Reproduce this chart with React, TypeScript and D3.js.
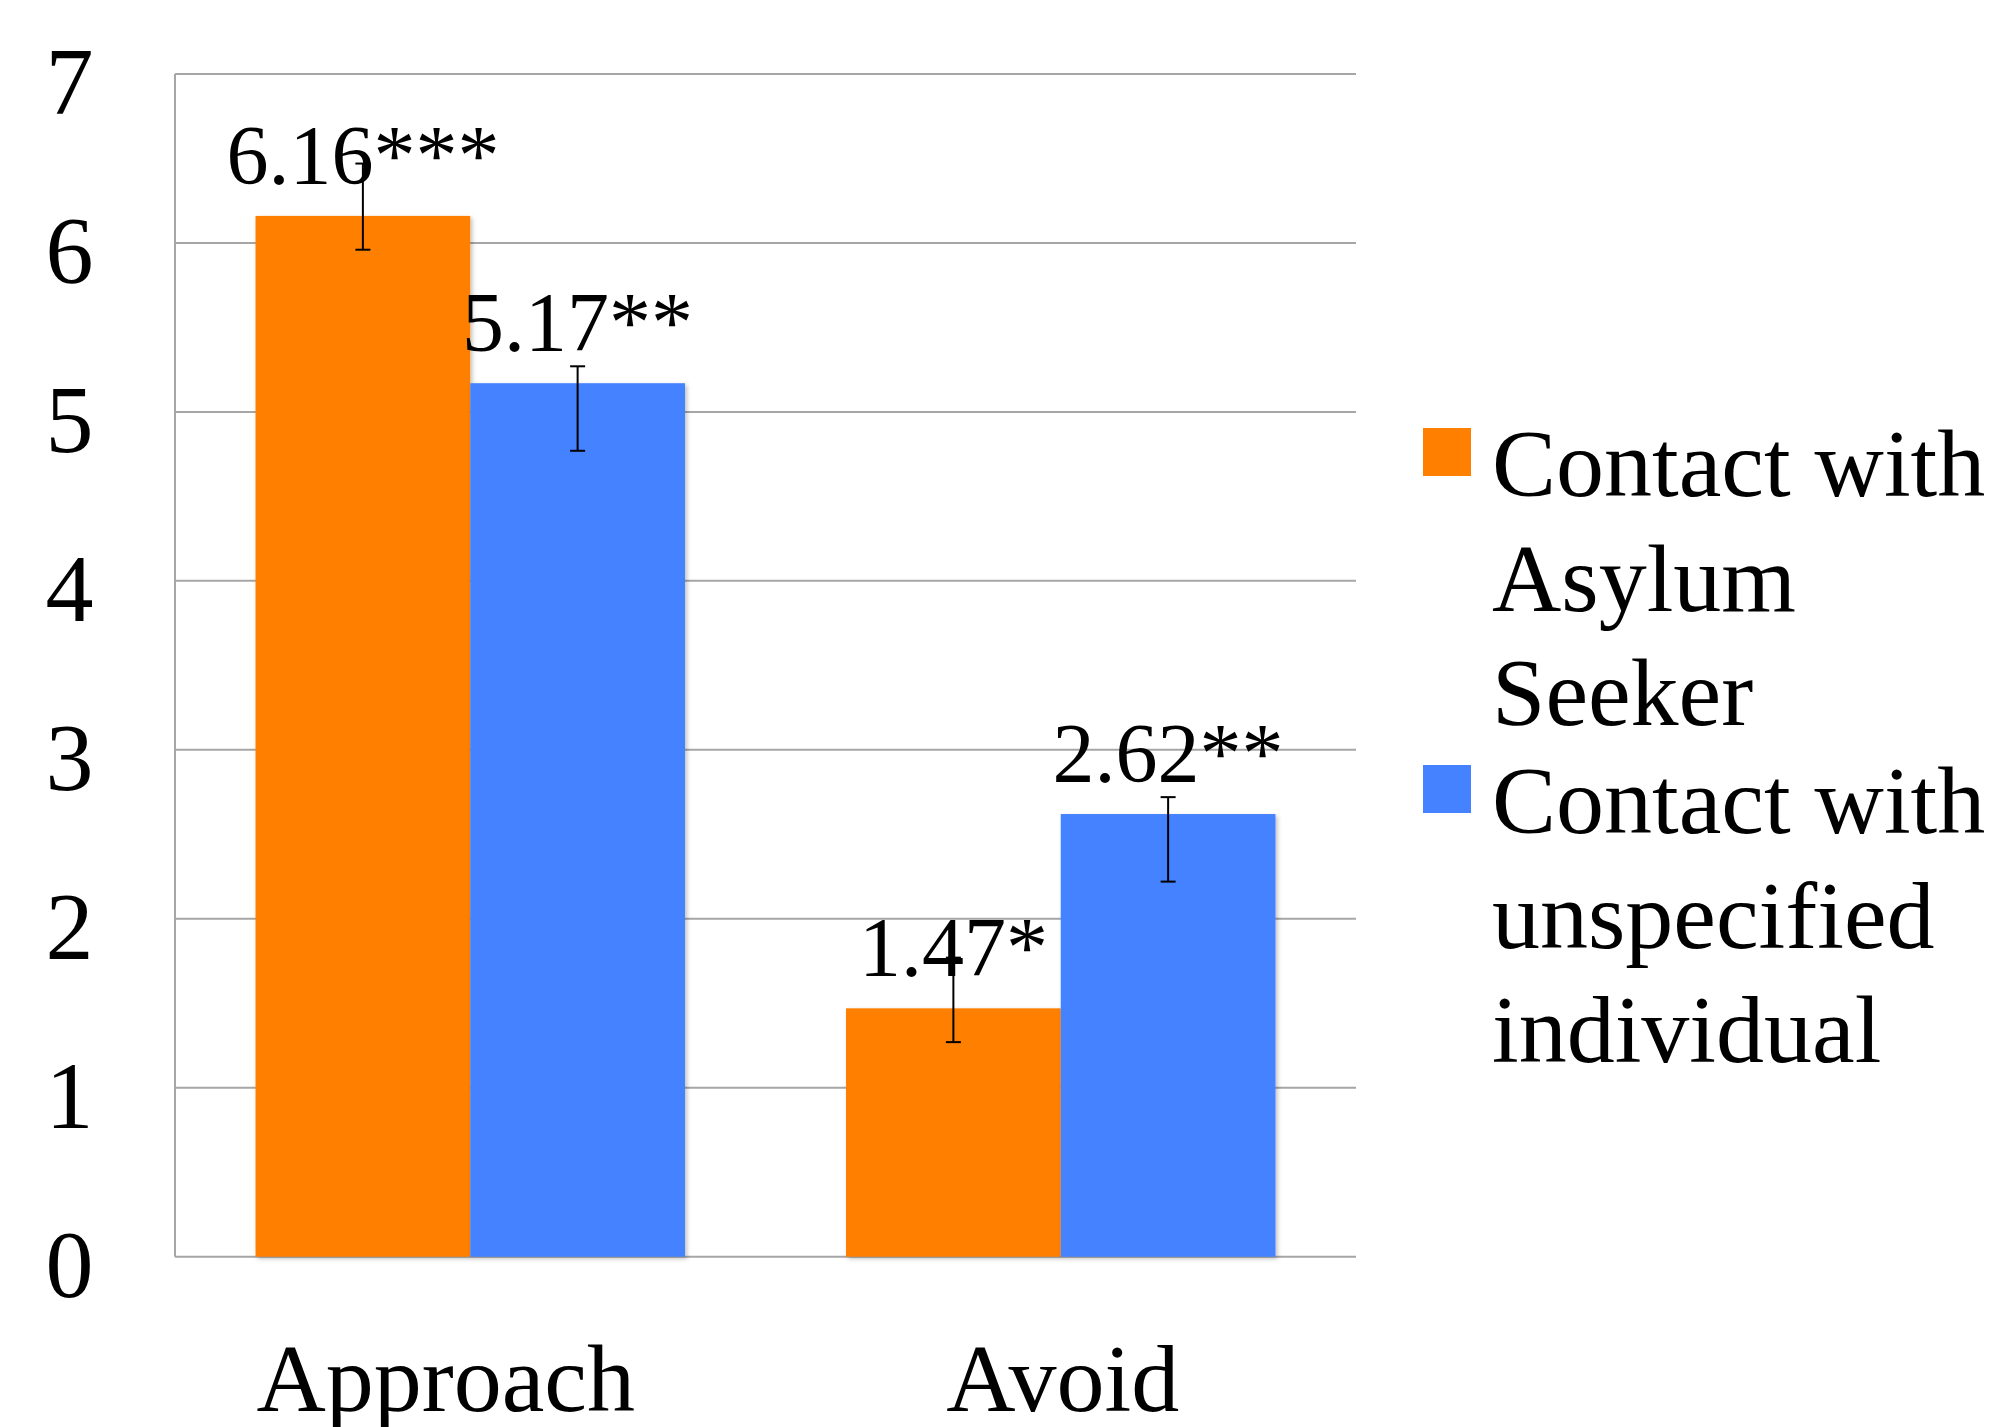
import React from "react";
import * as d3 from "d3";

const categories = ["Approach", "Avoid"];
const seriesNames = ["Contact with Asylum Seeker", "Contact with unspecified individual"];
const legendLines = [["Contact with", "Asylum", "Seeker"], ["Contact with", "unspecified", "individual"]];
const asylumValues = [6.16, 1.47];
const unspecifiedValues = [5.17, 2.62];
const asylumLabels = ["6.16***", "1.47*"];
const unspecifiedLabels = ["5.17**", "2.62**"];
const asylumErrLow = [5.96, 1.27];
const asylumErrHigh = [6.47, 1.77];
const unspecifiedErrLow = [4.77, 2.22];
const unspecifiedErrHigh = [5.27, 2.72];
const yTicks = [0, 1, 2, 3, 4, 5, 6, 7];

const COLORS = ["#FF7F00", "#4482FF"];
const FONT = "'Liberation Serif', 'Times New Roman', serif";

export default function App() {
  const W = 1998, H = 1427;
  const left = 175, right = 1356, top = 74, bottom = 1256.7;
  const y = d3.scaleLinear().domain([0, 7]).range([bottom, top]);
  const x0 = d3.scaleBand<string>().domain(categories).range([left, right]).paddingInner(0.2727).paddingOuter(0.13635);
  const x1 = d3.scaleBand<string>().domain(seriesNames).range([0, x0.bandwidth()]);
  const series = [
    { name: seriesNames[0], values: asylumValues, labels: asylumLabels, lo: asylumErrLow, hi: asylumErrHigh },
    { name: seriesNames[1], values: unspecifiedValues, labels: unspecifiedLabels, lo: unspecifiedErrLow, hi: unspecifiedErrHigh },
  ];
  const xLabelShift = [-24.6, 2];
  const capHalf = 7.5;

  return (
    <svg width={W} height={H} style={{ position: "absolute", left: 0, top: 0, background: "#fff" }} fontFamily={FONT}>
      <defs>
        <filter id="shadow" x="-5%" y="-5%" width="115%" height="115%">
          <feDropShadow dx="2" dy="2" stdDeviation="2" floodColor="#000" floodOpacity="0.25" />
        </filter>
      </defs>
      {/* grid */}
      {yTicks.map((t) => (
        <line key={t} x1={left} x2={right} y1={y(t)} y2={y(t)} stroke="#a6a6a6" strokeWidth={2} />
      ))}
      <line x1={left} x2={left} y1={top} y2={bottom} stroke="#a6a6a6" strokeWidth={2} />
      {/* y tick labels */}
      {yTicks.map((t) => (
        <text key={t} x={69.5} y={y(t) + 40} fontSize={96} textAnchor="middle" fill="#000">{t}</text>
      ))}
      {/* bars */}
      {series.map((s, si) =>
        categories.map((c, ci) => {
          const bx = (x0(c) as number) + (x1(s.name) as number);
          const by = y(s.values[ci]);
          return (
            <rect key={`${si}-${ci}`} x={bx} y={by} width={x1.bandwidth()} height={bottom - by} fill={COLORS[si]} filter="url(#shadow)" />
          );
        })
      )}
      {/* error bars */}
      {series.map((s, si) =>
        categories.map((c, ci) => {
          const cx = (x0(c) as number) + (x1(s.name) as number) + x1.bandwidth() / 2;
          const yl = y(s.lo[ci]);
          const yh = y(s.hi[ci]);
          return (
            <g key={`e${si}-${ci}`} stroke="#000" strokeWidth={2}>
              <line x1={cx} x2={cx} y1={yh} y2={yl} />
              <line x1={cx - capHalf} x2={cx + capHalf} y1={yh} y2={yh} />
              <line x1={cx - capHalf} x2={cx + capHalf} y1={yl} y2={yl} />
            </g>
          );
        })
      )}
      {/* value labels */}
      {series.map((s, si) =>
        categories.map((c, ci) => {
          const cx = (x0(c) as number) + (x1(s.name) as number) + x1.bandwidth() / 2;
          return (
            <text key={`l${si}-${ci}`} x={cx} y={y(s.values[ci]) - 32} fontSize={84} textAnchor="middle" fill="#000">
              {s.labels[ci]}
            </text>
          );
        })
      )}
      {/* x labels */}
      {categories.map((c, ci) => (
        <text key={c} x={(x0(c) as number) + x0.bandwidth() / 2 + xLabelShift[ci]} y={1410.7} fontSize={96} textAnchor="middle" fill="#000">
          {c}
        </text>
      ))}
      {/* legend */}
      {seriesNames.map((n, i) => {
        const base = 496 + i * 337;
        return (
          <g key={n}>
            <rect x={1423} y={base - 68} width={48} height={48} fill={COLORS[i]} />
            {legendLines[i].map((ln, li) => (
              <text key={li} x={1492} y={base + li * 114.5} fontSize={96} fill="#000">{ln}</text>
            ))}
          </g>
        );
      })}
    </svg>
  );
}
